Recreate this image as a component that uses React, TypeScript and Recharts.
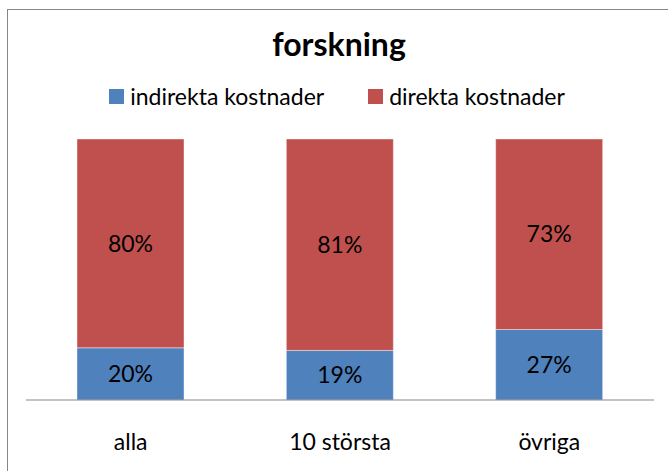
import React from 'react';
import { BarChart, Bar, XAxis, YAxis, LabelList } from 'recharts';

const categories = ['alla', '10 största', 'övriga'];
const indirekta = [20, 19, 27];
const direkta = [80, 81, 73];
const seriesNames = ['indirekta kostnader', 'direkta kostnader'];
const colors = ['#4F81BD', '#C0504D'];

const data = categories.map((name, i) => ({
  name,
  indirekta: indirekta[i],
  direkta: direkta[i],
}));

const font = 'Lato, "Open Sans", sans-serif';

const pct = (v: any) => `${v}%`;

const App = () => {
  return (
    <div style={{ position: 'fixed', left: 0, top: 0, width: 668, height: 471, overflow: 'hidden', background: '#fff', fontFamily: font }}>
      <div style={{ position: 'absolute', left: 7, top: 9, width: 700, height: 500, border: '1px solid #878787' }} />
      <div style={{ position: 'absolute', left: 0, width: 678, top: 24, textAlign: 'center', fontSize: 32, fontWeight: 'bold', color: '#000' }}>
        forskning
      </div>
      <div style={{ position: 'absolute', left: 0, width: 674, top: 82, display: 'flex', justifyContent: 'center', fontSize: 23, color: '#000' }}>
        {seriesNames.map((n, i) => (
          <div key={n} style={{ display: 'flex', alignItems: 'center', marginRight: i === 0 ? 44 : 0 }}>
            <span style={{ display: 'inline-block', width: 15, height: 15, background: colors[i], marginRight: 6 }} />
            <span>{n}</span>
          </div>
        ))}
      </div>
      <div style={{ position: 'absolute', left: 0, top: 0 }}>
        <BarChart
          width={668}
          height={471}
          data={data}
          margin={{ top: 139, right: 14, bottom: 0, left: 26 }}
          barSize={107}
        >
          <YAxis hide domain={[0, 100]} />
          <XAxis
            dataKey="name"
            height={71}
            tickLine={false}
            tickMargin={28}
            stroke="#878787"
            tick={{ fill: '#000', fontSize: 23, fontFamily: font }}
          />
          <Bar dataKey="indirekta" stackId="a" fill={colors[0]} stroke="#fff" strokeOpacity={0.4} isAnimationActive={false}>
            <LabelList dataKey="indirekta" position="center" formatter={pct} fill="#000" fontSize={23} fontFamily={font} />
          </Bar>
          <Bar dataKey="direkta" stackId="a" fill={colors[1]} stroke="#fff" strokeOpacity={0.4} isAnimationActive={false}>
            <LabelList dataKey="direkta" position="center" formatter={pct} fill="#000" fontSize={23} fontFamily={font} />
          </Bar>
        </BarChart>
      </div>
    </div>
  );
};

export default App;
